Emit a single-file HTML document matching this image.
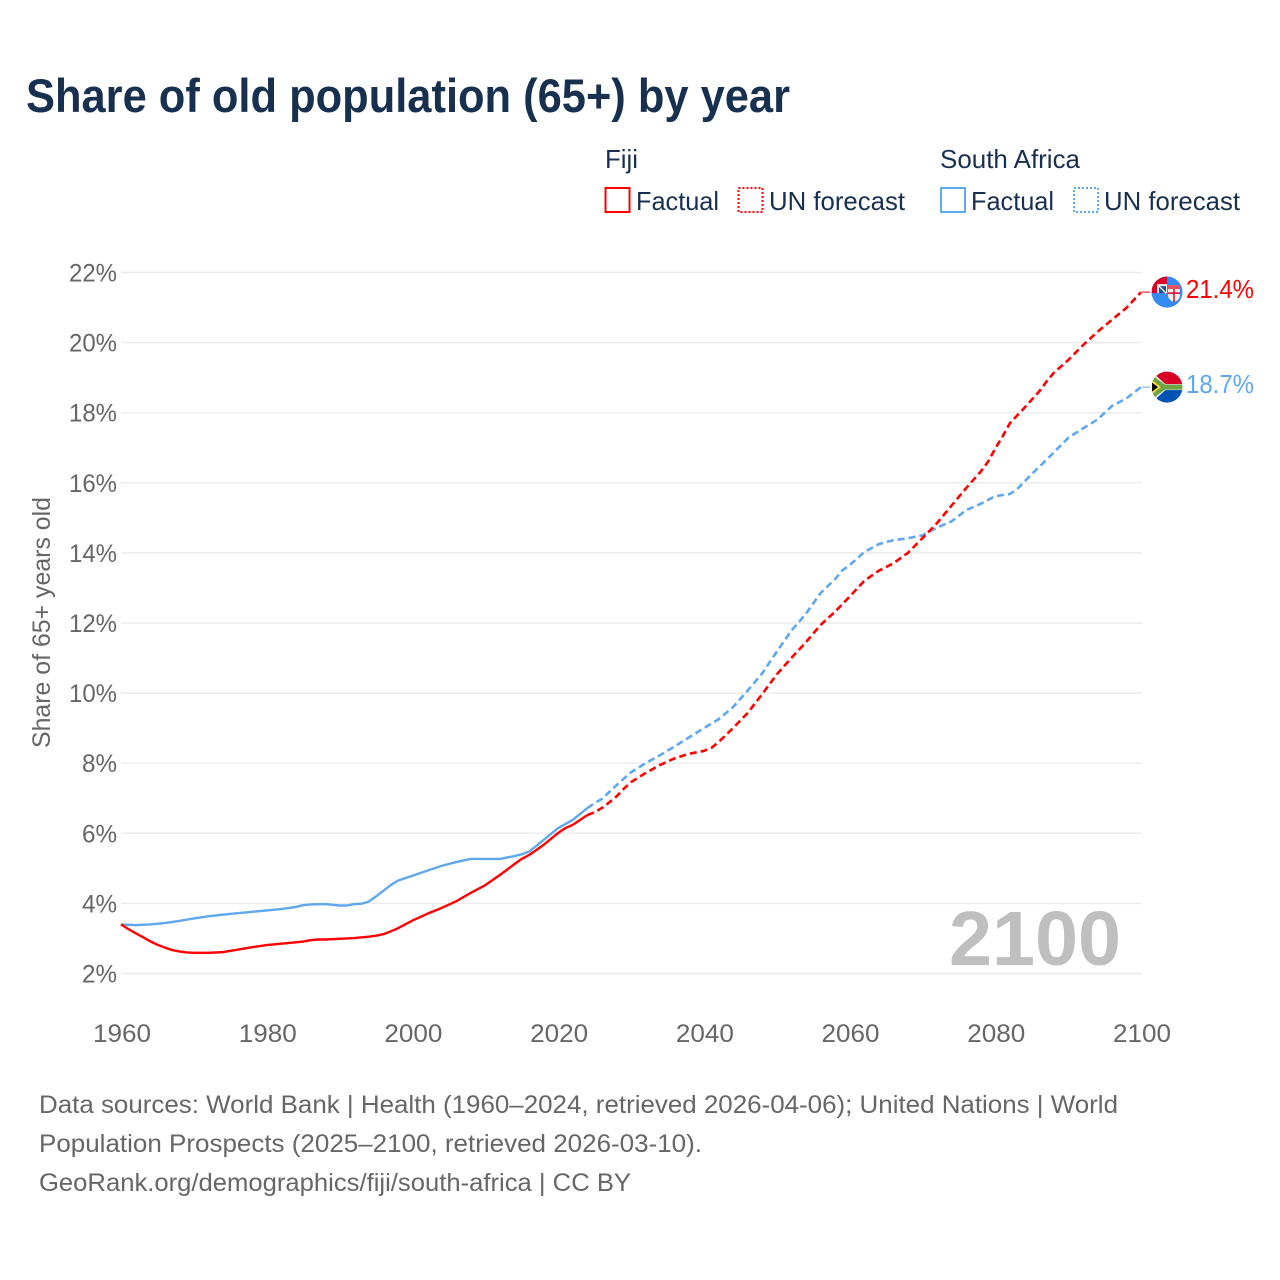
<!DOCTYPE html>
<html lang="en">
<head>
<meta charset="utf-8">
<title>Share of old population (65+) by year</title>
<style>
html,body{margin:0;padding:0;background:#fff}
svg{display:block}
text{font-family:"Liberation Sans",sans-serif}
</style>
</head>
<body>
<svg id="chart" xmlns="http://www.w3.org/2000/svg" width="1280" height="1280" viewBox="0 0 1280 1280">
  <rect x="0" y="0" width="1280" height="1280" fill="#fff"/>
  <text x="26" y="112" font-size="47" font-weight="700" fill="#18304f" textLength="764" lengthAdjust="spacingAndGlyphs">Share of old population (65+) by year</text>

  <g font-size="26" fill="#18304f">
    <text x="605" y="168" textLength="33" lengthAdjust="spacingAndGlyphs">Fiji</text>
    <text x="940" y="168" textLength="140" lengthAdjust="spacingAndGlyphs">South Africa</text>
    <rect x="605.5" y="188" width="24" height="24" fill="none" stroke="#ff0000" stroke-width="2"/>
    <text x="636" y="210" textLength="83" lengthAdjust="spacingAndGlyphs">Factual</text>
    <rect x="738.5" y="188" width="24" height="24" fill="none" stroke="#ff0000" stroke-width="2" stroke-dasharray="2 2"/>
    <text x="769" y="210" textLength="136" lengthAdjust="spacingAndGlyphs">UN forecast</text>
    <rect x="941" y="188" width="24" height="24" fill="none" stroke="#5fa8ee" stroke-width="2"/>
    <text x="971" y="210" textLength="83" lengthAdjust="spacingAndGlyphs">Factual</text>
    <rect x="1074" y="188" width="24" height="24" fill="none" stroke="#5fa8ee" stroke-width="2" stroke-dasharray="2 2"/>
    <text x="1104" y="210" textLength="136" lengthAdjust="spacingAndGlyphs">UN forecast</text>
  </g>

  <g id="grid"></g>
  <g id="yticks"></g>
  <g id="xticks"></g>
  <text transform="translate(50 622.5) rotate(-90)" text-anchor="middle" font-size="25" fill="#666" textLength="251" lengthAdjust="spacingAndGlyphs">Share of 65+ years old</text>
  <text x="949" y="965" font-size="77" font-weight="700" fill="#bfbfbf" textLength="172" lengthAdjust="spacingAndGlyphs">2100</text>
  <g id="series"></g>

  <defs>
    <clipPath id="flag-clip"><circle cx="0" cy="0" r="15.500"/></clipPath>
  </defs>
  <g id="flag-fiji">
    <circle r="15.500" fill="#338af3"/>
    <g clip-path="url(#flag-clip)">
      <path d="M-15 -16H0V1H-15Z" fill="#d80027"/>
      <path d="M-10 -8H0V1H-10Z" fill="#f0f0f0"/>
      <path d="M-8 -6H-1V1H-8Z" fill="#1a4f9c"/>
      <path d="M-9 -7L-1 1" stroke="#f0f0f0" stroke-width="1.500"/>
    </g>
    <path d="M1 -7H13V3Q13 8 7 10Q1 8 1 3Z" fill="#f0f0f0"/>
    <path d="M1 -7H13V-3H1Z" fill="#e8505f"/>
    <path d="M7 -3V10M1 1H13" stroke="#d80027" stroke-width="1.500"/>
  </g>
  <g id="flag-za">
    <g clip-path="url(#flag-clip)">
      <rect x="-16" y="-16" width="32" height="32" fill="#f0f0f0"/>
      <rect x="-16" y="-16" width="32" height="13" fill="#d80027"/>
      <rect x="-16" y="3" width="32" height="13" fill="#0052b4"/>
      <path d="M-15 -15L-1 -2.500H16V2.500H-1L-15 15Z" fill="#f0f0f0"/>
      <path d="M-15 -12L-2 -2.500H16V2.500H-2L-15 12Z" fill="#6da544"/>
      <path d="M-15 -7L-6 0L-15 7Z" fill="#ffda44"/>
      <path d="M-15 -4.500L-9 0L-15 4.500Z" fill="#000"/>
    </g>
  </g>
  <g id="endlabels"></g>

  <g font-size="25" fill="#666">
    <text x="39" y="1113" textLength="1079" lengthAdjust="spacingAndGlyphs">Data sources: World Bank | Health (1960–2024, retrieved 2026-04-06); United Nations | World</text>
    <text x="39" y="1152" textLength="663" lengthAdjust="spacingAndGlyphs">Population Prospects (2025–2100, retrieved 2026-03-10).</text>
    <text x="39" y="1191" textLength="592" lengthAdjust="spacingAndGlyphs">GeoRank.org/demographics/fiji/south-africa | CC BY</text>
  </g>
</svg>
<script>
const yTicks = [2, 4, 6, 8, 10, 12, 14, 16, 18, 20, 22];
const xTicks = [1960, 1980, 2000, 2020, 2040, 2060, 2080, 2100];
const lastFactualYear = 2024;
const fijiYears = [1960,1961,1962,1963,1964,1965,1966,1967,1968,1969,1970,1972,1974,1976,1978,1980,1982,1984,1985,1986,1987,1988,1990,1992,1994,1995,1996,1997,1998,1999,2000,2002,2004,2006,2008,2010,2012,2014,2015,2016,2017,2018,2019,2020,2021,2022,2023,2024,2025,2026,2027,2028,2029,2030,2032,2034,2036,2038,2040,2041,2042,2044,2046,2048,2050,2052,2054,2056,2058,2060,2062,2064,2066,2068,2070,2072,2074,2076,2078,2079,2080,2081,2082,2084,2086,2087,2088,2090,2092,2094,2096,2098,2100];
const fijiValues = [3.4,3.27,3.15,3.04,2.92,2.82,2.74,2.67,2.63,2.6,2.59,2.59,2.61,2.68,2.75,2.81,2.85,2.89,2.91,2.95,2.97,2.97,2.99,3.01,3.05,3.08,3.12,3.2,3.29,3.4,3.51,3.7,3.87,4.06,4.3,4.52,4.81,5.12,5.27,5.38,5.52,5.67,5.84,6.01,6.15,6.24,6.38,6.52,6.6,6.72,6.88,7.05,7.27,7.46,7.72,7.95,8.14,8.27,8.35,8.43,8.6,9.0,9.43,9.97,10.53,11.0,11.45,11.94,12.32,12.75,13.2,13.49,13.7,14.0,14.42,14.85,15.35,15.85,16.32,16.6,16.98,17.32,17.7,18.14,18.6,18.88,19.13,19.5,19.92,20.3,20.65,20.99,21.44];
const saYears = [1960,1962,1964,1966,1968,1970,1972,1974,1976,1978,1980,1982,1984,1985,1986,1988,1990,1991,1992,1993,1994,1995,1996,1997,1998,2000,2002,2004,2006,2008,2010,2012,2014,2015,2016,2017,2018,2019,2020,2022,2023,2024,2025,2026,2028,2030,2032,2034,2036,2038,2040,2042,2044,2046,2048,2050,2052,2054,2056,2058,2059,2060,2062,2064,2066,2068,2070,2072,2074,2076,2078,2080,2082,2083,2085,2087,2090,2092,2094,2096,2098,2100];
const saValues = [3.4,3.38,3.4,3.44,3.5,3.57,3.63,3.68,3.72,3.76,3.8,3.84,3.9,3.95,3.97,3.98,3.94,3.94,3.98,3.99,4.05,4.2,4.36,4.52,4.65,4.79,4.93,5.07,5.18,5.27,5.27,5.27,5.35,5.4,5.48,5.64,5.81,5.98,6.15,6.38,6.55,6.72,6.86,6.98,7.37,7.74,8.0,8.23,8.48,8.74,9.0,9.25,9.6,10.07,10.56,11.18,11.78,12.26,12.85,13.25,13.5,13.65,14.02,14.25,14.36,14.42,14.5,14.72,14.9,15.22,15.4,15.62,15.68,15.82,16.25,16.65,17.28,17.55,17.8,18.19,18.41,18.73];

const NS = 'http://www.w3.org/2000/svg';
const plot = { left: 121, right: 1141, top: 272.5, bottom: 973.5, xMin: 1960, xMax: 2100, yMin: 2, yMax: 22 };
function xScale(year) { return plot.left + (year - plot.xMin) / (plot.xMax - plot.xMin) * (plot.right - plot.left); }
function yScale(v) { return plot.bottom - (v - plot.yMin) / (plot.yMax - plot.yMin) * (plot.bottom - plot.top); }
function make(tag, parent, attrs, txt) {
  const el = document.createElementNS(NS, tag);
  for (const k in attrs) el.setAttribute(k, attrs[k]);
  if (txt !== undefined) el.textContent = txt;
  parent.appendChild(el);
  return el;
}
const grid = document.getElementById('grid');
const yG = document.getElementById('yticks');
const xG = document.getElementById('xticks');
yTicks.forEach(function (t) {
  const line = make('line', grid, { x1: plot.left, x2: plot.right + 1, y1: yScale(t), y2: yScale(t), stroke: '#ececec', 'stroke-width': 1.5 });
  
  
  const label = String(t) + '%';
  const lab = make('text', yG, { x: 117, y: yScale(t) + 9, 'text-anchor': 'end', 'font-size': 25, fill: '#666', textLength: label.length === 3 ? 48 : 35, lengthAdjust: 'spacingAndGlyphs' }, label);
  
  
});
xTicks.forEach(function (t) {
  const lab = make('text', xG, { x: xScale(t) + 1, y: 1042, 'text-anchor': 'middle', 'font-size': 25, fill: '#666', textLength: 58, lengthAdjust: 'spacingAndGlyphs' }, String(t));
  
  
});
function pts(years, values, test) {
  const out = [];
  years.forEach(function (yr, i) { if (test(yr)) out.push(xScale(yr).toFixed(2) + ',' + yScale(values[i]).toFixed(2)); });
  return out.join(' ');
}
const seriesG = document.getElementById('series');
function drawSeries(years, values, color) {
  const forecast = make('polyline', seriesG, { points: pts(years, values, function (y) { return y >= lastFactualYear; }), fill: 'none', stroke: color, 'stroke-width': 2.6, 'stroke-dasharray': '7 4', 'stroke-linejoin': 'round' });
  
  
  const factual = make('polyline', seriesG, { points: pts(years, values, function (y) { return y <= lastFactualYear; }), fill: 'none', stroke: color, 'stroke-width': 2.4, 'stroke-linejoin': 'round' });
  
  
}
drawSeries(saYears, saValues, '#5fa8ee');
drawSeries(fijiYears, fijiValues, '#ff0000');

const endG = document.getElementById('endlabels');
function endMark(values, color, flagId) {
  const last = values[values.length - 1];
  const y = yScale(last);
  const c = make('line', endG, { x1: plot.right + 1, x2: 1150, y1: y, y2: y, stroke: color, 'stroke-width': 1 });
  
  
  document.getElementById(flagId).setAttribute('transform', 'translate(1167 ' + y.toFixed(1) + ')');
  const t = make('text', endG, { x: 1186, y: y + 6, 'font-size': 26, fill: color, textLength: 68, lengthAdjust: 'spacingAndGlyphs' }, last.toFixed(1) + '%');
  
  
}
endMark(fijiValues, '#ff0000', 'flag-fiji');
endMark(saValues, '#5fa8ee', 'flag-za');
</script>
</body>
</html>
